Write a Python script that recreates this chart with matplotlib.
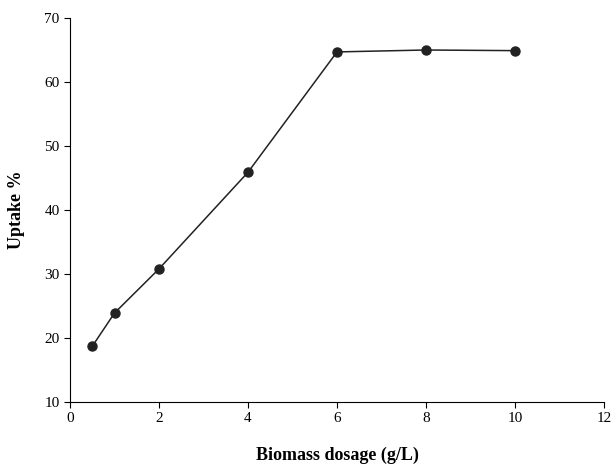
import matplotlib
matplotlib.use("Agg")
import matplotlib.pyplot as plt

dosage = [0.5, 1, 2, 4, 6, 8, 10]
uptake = [18.7, 23.9, 30.8, 45.9, 64.7, 65.0, 64.9]

plt.rcParams['font.family'] = ['Liberation Serif', 'DejaVu Serif']
fig = plt.figure(figsize=(6.11, 4.66), dpi=100)
ax = fig.add_axes([70/611, 64/466, 534/611, 384/466])
ax.plot(dosage, uptake, color='#222222', lw=1.1, marker='o', ms=6.5, mfc='#222222', mec='#222222')
ax.set_xlim(0, 12)
ax.set_ylim(10, 70)
ax.set_xticks(range(0, 13, 2))
ax.set_yticks(range(10, 71, 10))
for s in ['top', 'right']:
    ax.spines[s].set_visible(False)
ax.tick_params(direction='out', length=4, labelsize=11)
ax.set_xlabel('Biomass dosage (g/L)', fontsize=13, fontweight='bold', labelpad=15)
ax.set_ylabel('Uptake %', fontsize=13, fontweight='bold', labelpad=14)
fig.savefig('out.png', dpi=100)
